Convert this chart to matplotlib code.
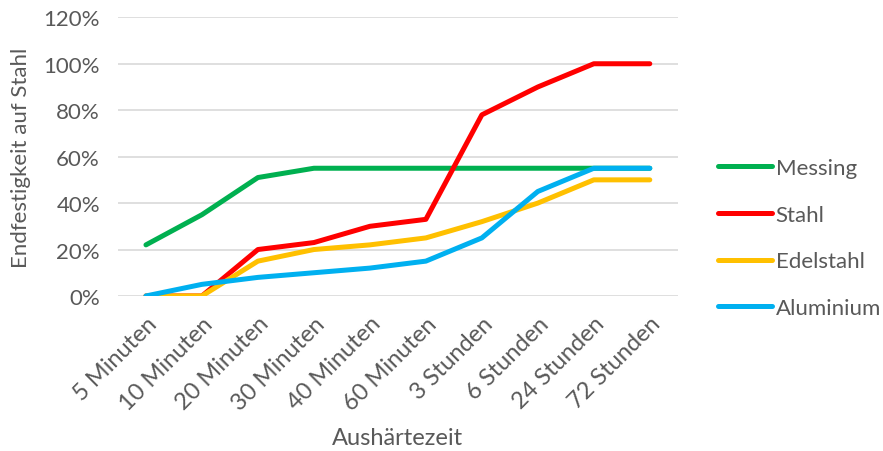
import matplotlib.pyplot as plt
from matplotlib.ticker import PercentFormatter

categories = ['5 Minuten', '10 Minuten', '20 Minuten', '30 Minuten', '40 Minuten',
              '60 Minuten', '3 Stunden', '6 Stunden', '24 Stunden', '72 Stunden']
messing = [22, 35, 51, 55, 55, 55, 55, 55, 55, 55]
stahl = [0, 0, 20, 23, 30, 33, 78, 90, 100, 100]
edelstahl = [0, 0, 15, 20, 22, 25, 32, 40, 50, 50]
aluminium = [0, 5, 8, 10, 12, 15, 25, 45, 55, 55]

plt.rcParams['font.family'] = ['Lato', 'DejaVu Sans']
text_color = '#595959'

fig = plt.figure(figsize=(8.83, 4.52), dpi=100)
ax = fig.add_axes([0.1336, 0.343, 0.634, 0.6165])

x = range(len(categories))
series = [('Messing', messing, '#00B050'),
          ('Stahl', stahl, '#FF0000'),
          ('Edelstahl', edelstahl, '#FFC000'),
          ('Aluminium', aluminium, '#00B0F0')]
for name, vals, col in series:
    ax.plot(x, vals, color=col, lw=3.6, label=name, solid_capstyle='round',
            solid_joinstyle='round')

ax.set_xlim(-0.5, len(categories) - 0.5)
ax.set_ylim(0, 120)
ax.set_yticks(range(0, 121, 20))
ax.yaxis.set_major_formatter(PercentFormatter(decimals=0))
ax.grid(axis='y', color='#D9D9D9', lw=1.2)
ax.set_axisbelow(True)
for s in ax.spines.values():
    s.set_visible(False)
ax.tick_params(length=0, colors=text_color)
ax.tick_params(axis='y', pad=13, labelsize=16)
ax.set_xticks(list(x))
ax.set_xticklabels(categories, rotation=45, ha='right', rotation_mode='anchor')
ax.tick_params(axis='x', pad=12, labelsize=17)

ax.set_xlabel('Aushärtezeit', fontsize=17, color=text_color, labelpad=10)
ax.set_ylabel('Endfestigkeit auf Stahl', fontsize=16, color=text_color, labelpad=9)

leg = ax.legend(loc='center left', bbox_to_anchor=(1.036, 0.208), frameon=False,
                fontsize=16, handlelength=2.45, handletextpad=0.15, labelspacing=1.2)
for t in leg.get_texts():
    t.set_color(text_color)

fig.savefig('out.png', dpi=100)
